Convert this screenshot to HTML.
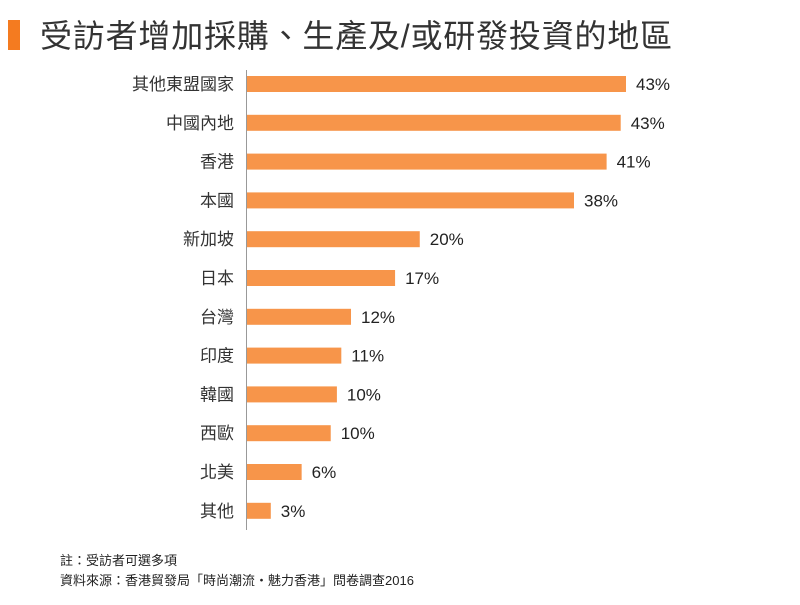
<!DOCTYPE html>
<html><head><meta charset="utf-8"><style>
body{margin:0;background:#fff;width:800px;height:600px;overflow:hidden;font-family:"Liberation Sans","Noto Sans CJK TC",sans-serif;}
</style></head><body>
<svg width="800" height="600">
<rect x="8" y="20" width="12" height="30" fill="#f47b20"/>
<text x="40" y="47" font-size="32" letter-spacing="0.8" fill="#333" font-family="Liberation Sans, Noto Sans CJK TC, sans-serif">受訪者增加採購、生產及/或研發投資的地區</text>
<line x1="246.5" y1="70" x2="246.5" y2="530" stroke="#999" stroke-width="1"/>
<g id="bars"></g>
<text x="60" y="565" font-size="13" fill="#222">註：受訪者可選多項</text>
<text x="60" y="585" font-size="13" fill="#222">資料來源：香港貿發局「時尚潮流・魅力香港」問卷調查2016</text>
</svg>
<script>
const categories=["其他東盟國家","中國內地","香港","本國","新加坡","日本","台灣","印度","韓國","西歐","北美","其他"];
const values=[43,42.4,40.8,37.1,19.6,16.8,11.8,10.7,10.2,9.5,6.2,2.7];
const valueLabels=["43%","43%","41%","38%","20%","17%","12%","11%","10%","10%","6%","3%"];
const x0=247, pxPer=(626-247)/43, yTop=84, step=38.8, bh=16;
const xs=v=>x0+v*pxPer, ys=i=>yTop+i*step;
const g=document.getElementById('bars');
const NS="http://www.w3.org/2000/svg";
categories.forEach((c,i)=>{
  const r=document.createElementNS(NS,'rect');
  r.setAttribute('x',x0);r.setAttribute('y',ys(i)-bh/2);
  r.setAttribute('width',xs(values[i])-x0);r.setAttribute('height',bh);
  r.setAttribute('fill','#f7954a');
  
  
  g.appendChild(r);
  const t=document.createElementNS(NS,'text');
  t.setAttribute('x',234);t.setAttribute('y',ys(i)+6);
  t.setAttribute('text-anchor','end');t.setAttribute('font-size','17');t.setAttribute('fill','#333');
  t.textContent=c;
  
  
  g.appendChild(t);
  const v=document.createElementNS(NS,'text');
  v.setAttribute('x',xs(values[i])+10);v.setAttribute('y',ys(i)+6);
  v.setAttribute('font-size','17');v.setAttribute('fill','#222');
  v.textContent=valueLabels[i];
  
  
  g.appendChild(v);
});
</script>
</body></html>
